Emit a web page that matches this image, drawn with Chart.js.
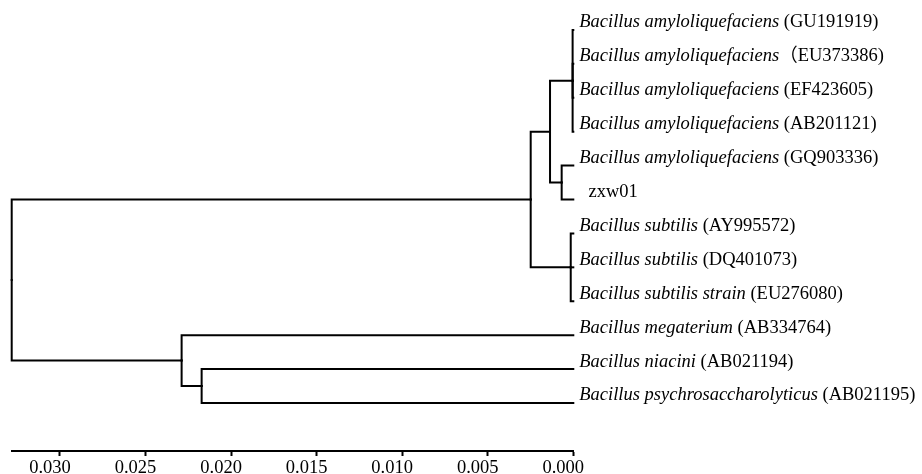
<!DOCTYPE html>
<html>
<head>
<meta charset="utf-8">
<script src="https://cdn.jsdelivr.net/npm/chart.js@4"></script>
<style>
  html, body { margin: 0; padding: 0; background: #fff; }
  #tree { display: block; }
</style>
</head>
<body>
<canvas id="tree" width="922" height="474"></canvas>
<script>
// tips, top to bottom
const tipSpecies = [
    "Bacillus amyloliquefaciens",
    "Bacillus amyloliquefaciens",
    "Bacillus amyloliquefaciens",
    "Bacillus amyloliquefaciens",
    "Bacillus amyloliquefaciens",
    "",
    "Bacillus subtilis",
    "Bacillus subtilis",
    "Bacillus subtilis strain",
    "Bacillus megaterium",
    "Bacillus niacini",
    "Bacillus psychrosaccharolyticus"
];
const tipAccessions = [
    " (GU191919)",
    "（EU373386)",
    " (EF423605)",
    " (AB201121)",
    " (GQ903336)",
    "  zxw01",
    " (AY995572)",
    " (DQ401073)",
    " (EU276080)",
    " (AB334764)",
    " (AB021194)",
    " (AB021195)"
];

// internal nodes: index 12 + position; children refer to tips (0-11) or nodes (12+)
const nodeHeights = [0.00004, 0.00068, 0.00136, 0.00015, 0.00249, 0.02172, 0.02289, 0.03282];
const nodeChildren = [
    [0, 1, 2, 3],
    [4, 5],
    [12, 13],
    [6, 7, 8],
    [14, 15],
    [10, 11],
    [9, 17],
    [16, 18]
];

// scale bar
const scaleTicks = [0.030, 0.025, 0.020, 0.015, 0.010, 0.005, 0.000];
const scaleLabels = ["0.030", "0.025", "0.020", "0.015", "0.010", "0.005", "0.000"];

const nTips = tipSpecies.length;
const rootIndex = nTips + nodeHeights.length - 1;

// height and row of every tip / node
const height = [];
const row = [];
for (let i = 0; i < nTips; i++) {
    height[i] = 0;
    row[i] = i;
}
nodeChildren.forEach(function (kids, k) {
    const id = nTips + k;
    height[id] = nodeHeights[k];
    row[id] = (row[kids[0]] + row[kids[kids.length - 1]]) / 2;
});

// one elbow per branch: node -> child
const datasets = [];
nodeChildren.forEach(function (kids, k) {
    const id = nTips + k;
    kids.forEach(function (c) {
        datasets.push({
            data: [
                { x: height[id], y: row[id] },
                { x: height[id], y: row[c] },
                { x: height[c], y: row[c] }
            ],
            showLine: true,
            borderColor: "#000",
            borderWidth: 2,
            pointRadius: 0,
            fill: false,
            clip: false,
            borderJoinStyle: "miter",
            borderCapStyle: "square"
        });
    });
});

const tipLabels = {
    id: "tipLabels",
    afterDatasetsDraw(chart) {
        const ctx = chart.ctx;
        const xs = chart.scales.x;
        const ys = chart.scales.y;
        ctx.save();
        ctx.fillStyle = "#000";
        ctx.textBaseline = "alphabetic";
        ctx.textAlign = "left";
        for (let i = 0; i < nTips; i++) {
            let x = xs.getPixelForValue(0) + 6;
            const y = ys.getPixelForValue(i) - 2.5;
            if (tipSpecies[i]) {
                ctx.font = 'italic 18.5px "Liberation Serif"';
                ctx.fillText(tipSpecies[i], x, y);
                x += ctx.measureText(tipSpecies[i]).width;
            }
            ctx.font = '18.5px "Liberation Serif", "Noto Sans CJK SC"';
            ctx.fillText(tipAccessions[i], x, y);
        }
        ctx.restore();
    }
};

const whiteBg = {
    id: "whiteBg",
    beforeDraw(chart) {
        const ctx = chart.ctx;
        ctx.save();
        ctx.fillStyle = "#fff";
        ctx.fillRect(0, 0, chart.width, chart.height);
        ctx.restore();
    }
};

new Chart(document.getElementById("tree"), {
    type: "scatter",
    data: { datasets: datasets },
    options: {
        responsive: false,
        animation: false,
        layout: {
            padding: { left: 11.7, right: 348.7, top: 13, bottom: 0 }
        },
        plugins: {
            legend: { display: false },
            tooltip: { enabled: false }
        },
        scales: {
            x: {
                type: "linear",
                reverse: true,
                min: 0,
                max: height[rootIndex],
                afterBuildTicks(axis) {
                    axis.ticks = scaleTicks.map(function (v) { return { value: v }; });
                },
                afterFit(axis) {
                    axis.height = 23;
                },
                border: { display: true, color: "#000", width: 2 },
                grid: {
                    drawOnChartArea: false,
                    drawTicks: true,
                    tickLength: 5,
                    tickWidth: 2,
                    tickColor: "#000"
                },
                ticks: {
                    padding: 4,
                    labelOffset: -10,
                    maxRotation: 0,
                    autoSkip: false,
                    color: "#000",
                    font: { family: "Liberation Serif", size: 18.5, lineHeight: 0.9 },
                    callback: function (value, index) {
                        return scaleLabels[index];
                    }
                }
            },
            y: {
                type: "linear",
                reverse: true,
                min: -0.5,
                max: 12.416,
                display: false
            }
        }
    },
    plugins: [whiteBg, tipLabels]
});
</script>
</body>
</html>
